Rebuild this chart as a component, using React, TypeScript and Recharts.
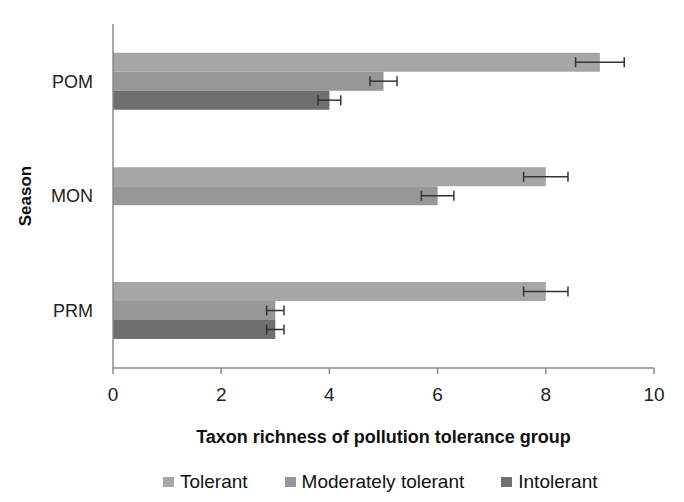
import React from 'react';
import {
  BarChart, Bar, XAxis, YAxis, Legend, ErrorBar,
} from 'recharts';

const seasons = ['POM', 'MON', 'PRM'];
const seriesNames = ['Tolerant', 'Moderately tolerant', 'Intolerant'];
const tolerant = [9, 8, 8];
const tolerantErr = [0.45, 0.41, 0.41];
const moderate = [5, 6, 3];
const moderateErr = [0.25, 0.3, 0.16];
const intolerant: (number | null)[] = [4, null, 3];
const intolerantErr: (number | null)[] = [0.21, null, 0.16];
const xTicks = [0, 2, 4, 6, 8, 10];

const COLORS = {
  tolerant: '#a6a6a6',
  moderate: '#979797',
  intolerant: '#6f6f6f',
};

const FONT = '"Liberation Sans", Arial, sans-serif';

const data = seasons.map((s, i) => ({
  season: s,
  tolerant: tolerant[i],
  tolerantErr: tolerantErr[i],
  moderate: moderate[i],
  moderateErr: moderateErr[i],
  intolerant: intolerant[i],
  intolerantErr: intolerantErr[i],
}));

function SeasonLabel({ viewBox }: any) {
  const x = viewBox.x + 25;
  const y = viewBox.y + viewBox.height / 2;
  return (
    <text
      x={x}
      y={y}
      transform={`rotate(-90 ${x} ${y})`}
      textAnchor="middle"
      dominantBaseline="central"
      fontSize={17}
      fontWeight="bold"
      fontFamily={FONT}
      fill="#111"
    >
      Season
    </text>
  );
}

function LegendContent({ payload }: any) {
  // keep the legend in the series order, not the reversed one recharts gives for vertical layout
  const items = [...(payload || [])].sort(
    (a: any, b: any) => seriesNames.indexOf(a.value) - seriesNames.indexOf(b.value),
  );
  return (
    <div
      style={{
        display: 'flex',
        alignItems: 'center',
        height: 30,
        paddingLeft: 163,
        fontFamily: FONT,
        fontSize: 19,
        color: '#111',
      }}
    >
      {items.map((p: any) => (
        <div key={p.value} style={{ display: 'flex', alignItems: 'center', marginRight: 37 }}>
          <span style={{ width: 11, height: 10, background: p.color, marginRight: 6, display: 'inline-block' }} />
          <span>{p.value}</span>
        </div>
      ))}
    </div>
  );
}

export default function App() {
  return (
    <div style={{ position: 'absolute', left: 0, top: 0, background: '#fff' }}>
      <BarChart
        width={684}
        height={502}
        data={data}
        layout="vertical"
        margin={{ top: 24, right: 30, bottom: 5, left: 0 }}
        barCategoryGap="25%"
        barGap={0}
      >
        <XAxis
          type="number"
          domain={[0, 10]}
          ticks={xTicks}
          height={99}
          tickSize={6}
          tickMargin={14}
          axisLine={{ stroke: '#8c8c8c', strokeWidth: 1.5 }}
          tickLine={{ stroke: '#8c8c8c', strokeWidth: 1.5 }}
          tick={{ fontSize: 19, fill: '#222', fontFamily: FONT }}
          label={{
            value: 'Taxon richness of pollution tolerance group',
            position: 'insideBottom',
            offset: 24,
            fontSize: 18,
            fontWeight: 'bold',
            fontFamily: FONT,
            fill: '#111',
          }}
        />
        <YAxis
          type="category"
          dataKey="season"
          width={113}
          tickLine={false}
          tickSize={0}
          tickMargin={20}
          axisLine={{ stroke: '#8c8c8c', strokeWidth: 1.5 }}
          tick={{ fontSize: 18, fill: '#222', fontFamily: FONT }}
          label={<SeasonLabel />}
        />
        <Legend
          verticalAlign="bottom"
          height={30}
          wrapperStyle={{ left: 0, width: 684, height: 30 }}
          content={<LegendContent />}
        />
        <Bar dataKey="tolerant" name={seriesNames[0]} fill={COLORS.tolerant} isAnimationActive={false}>
          <ErrorBar dataKey="tolerantErr" direction="x" width={5} stroke="#333" strokeWidth={1.5} />
        </Bar>
        <Bar dataKey="moderate" name={seriesNames[1]} fill={COLORS.moderate} isAnimationActive={false}>
          <ErrorBar dataKey="moderateErr" direction="x" width={5} stroke="#333" strokeWidth={1.5} />
        </Bar>
        <Bar dataKey="intolerant" name={seriesNames[2]} fill={COLORS.intolerant} isAnimationActive={false}>
          <ErrorBar dataKey="intolerantErr" direction="x" width={5} stroke="#333" strokeWidth={1.5} />
        </Bar>
      </BarChart>
    </div>
  );
}
